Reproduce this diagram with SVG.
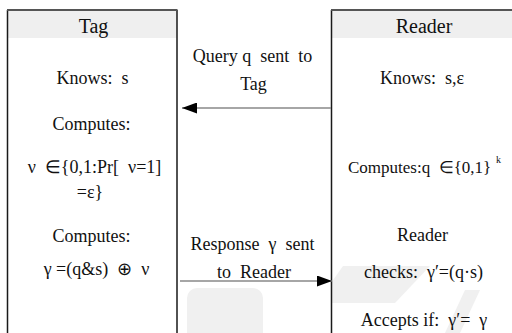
<svg xmlns="http://www.w3.org/2000/svg" width="512" height="333" viewBox="0 0 512 333">
<style>
text{font-family:'Liberation Serif','Times New Roman',serif;font-size:18px;fill:#111}
.hd{font-size:20px}
.c{text-anchor:middle}
.hdr{fill:#efefef}
.side{stroke:#1a1a1a;stroke-width:1.5;fill:none}
.top{stroke:#555;stroke-width:2;fill:none}
.wm{fill:#f0f0f0}
.conn{stroke:#888;stroke-width:1.3;fill:none}
</style>
<defs>
<marker id="ah" viewBox="0 0 15 11" refX="15" refY="5.5" markerWidth="15" markerHeight="11" markerUnits="userSpaceOnUse" orient="auto">
<polygon points="0,0 15,5.5 0,11" fill="#000"/>
</marker>
</defs>
<rect width="512" height="333" fill="#fff"/>
<g id="watermark">
<rect class="wm" x="187" y="288" width="76" height="60" rx="10"/>
<polygon class="wm" points="343,266 430,266 395,303 331,303 331,283"/>
<polygon class="wm" points="465,290 480,290 460,333 445,333"/>
</g>
<g id="tag">
<rect class="hdr" x="7.5" y="10" width="169.5" height="28"/>
<path class="side" d="M7.5,10 V340 M177,10 V340"/>
<path class="top" d="M7,10 H177.5"/>
<text class="hd c" x="93.5" y="33">Tag</text>
<text class="c" x="92.5" y="84" xml:space="preserve">Knows:  s</text>
<text class="c" x="91.5" y="130">Computes:</text>
<text class="c" x="94.5" y="173" xml:space="preserve">ν  ∈{0,1:Pr[  ν=1]</text>
<text class="c" x="90" y="198">=ε}</text>
<text class="c" x="91.5" y="242">Computes:</text>
<text class="c" x="96.5" y="275" xml:space="preserve">γ =(q&amp;s)  ⊕  ν</text>
</g>
<g id="reader">
<rect class="hdr" x="331.5" y="10" width="181" height="28"/>
<path class="side" d="M331.5,10 V340"/>
<path class="top" d="M331,10 H512"/>
<text class="hd c" x="424" y="33">Reader</text>
<text class="c" x="422" y="84" xml:space="preserve">Knows:  s,ε</text>
<text x="348" y="173" style="font-size:17px" xml:space="preserve">Computes:q  ∈{0,1}</text>
<text x="496" y="163" style="font-size:10px">k</text>
<text class="c" x="422.5" y="241">Reader</text>
<text class="c" x="423.5" y="278" xml:space="preserve">checks:  γ′=(q·s)</text>
<text class="c" x="424" y="326" xml:space="preserve">Accepts if:  γ′=  γ</text>
</g>
<g id="connectors">
<line class="conn" x1="331" y1="108" x2="182" y2="108" marker-end="url(#ah)"/>
<line class="conn" x1="180" y1="281" x2="332" y2="281" marker-end="url(#ah)"/>
<text class="c" x="252.5" y="62" xml:space="preserve">Query q  sent  to</text>
<text class="c" x="253.5" y="90">Tag</text>
<text class="c" x="252.5" y="250" xml:space="preserve">Response  γ  sent</text>
<text class="c" x="254" y="278" xml:space="preserve">to  Reader</text>
</g>
</svg>
